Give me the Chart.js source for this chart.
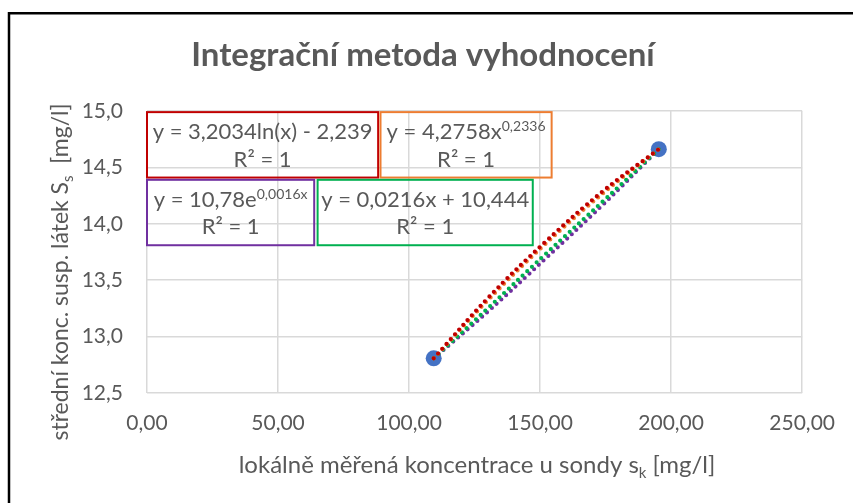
<!DOCTYPE html>
<html><head><meta charset="utf-8">
<script src="https://cdn.jsdelivr.net/npm/chart.js@4"></script>
<style>html,body{margin:0;padding:0;background:#fff;} canvas{display:block}</style>
</head><body>
<canvas id="c" width="853" height="503"></canvas>
<script>
// ---- data ----
const measuredX = [109.4, 195.3];
const measuredY = [12.807, 14.662];
const trendX   = [109.4, 130, 152, 174, 195.3];
const trendLog = [12.807, 13.34, 13.84, 14.29, 14.662];
const trendPow = [12.807, 13.32, 13.82, 14.27, 14.662];
const trendLin = [12.807, 13.25, 13.73, 14.20, 14.662];
const trendExp = [12.807, 13.22, 13.69, 14.17, 14.662];
const xTicks = [0, 50, 100, 150, 200, 250];
const yTicks = [12.5, 13, 13.5, 14, 14.5, 15];
const xTickLabels = ['0,00', '50,00', '100,00', '150,00', '200,00', '250,00'];
const yTickLabels = ['12,5', '13,0', '13,5', '14,0', '14,5', '15,0'];
const titleText = 'Integrační metoda vyhodnocení';
const eqBase = ['y = 3,2034ln(x) - 2,239', 'y = 4,2758x', 'y = 10,78e', 'y = 0,0216x + 10,444'];
const eqSup  = ['', '0,2336', '0,0016x', ''];
const eqR2   = ['R² = 1', 'R² = 1', 'R² = 1', 'R² = 1'];

// ---- styles / layout ----
const FAM = 'Lato';
const TXT = '#595959';
const COLORS = { log: '#C00000', pow: '#ED7D31', lin: '#00B050', exp: '#7030A0', pts: '#4472C4' };
const boxColors = [COLORS.log, COLORS.pow, COLORS.exp, COLORS.lin];
// label boxes in data coordinates [x0, x1, yTop, yBottom]
const boxExtents = [[0, 88.2, 14.99, 14.41], [89.1, 154.4, 14.99, 14.41], [0, 63.8, 14.39, 13.81], [65.1, 147.2, 14.39, 13.81]];

function pts(xs, ys) { return xs.map((x, i) => ({ x: x, y: ys[i] })); }
function trend(label, ys, color) {
  return { label: label, data: pts(trendX, ys), showLine: true, borderColor: color, backgroundColor: color,
    borderWidth: 4.2, borderDash: [0, 6.4], borderCapStyle: 'round', pointRadius: 0, tension: 0.4, fill: false };
}

function drawRich(ctx, parts, cx, baseY, weight) {
  let w = 0;
  parts.forEach(p => { ctx.font = (weight || '') + ' ' + p.s + 'px ' + FAM; w += ctx.measureText(p.t).width; });
  let x = cx - w / 2;
  parts.forEach(p => { ctx.font = (weight || '') + ' ' + p.s + 'px ' + FAM; ctx.fillText(p.t, x, baseY + (p.dy || 0)); x += ctx.measureText(p.t).width; });
}

const decor = {
  id: 'decor',
  beforeDraw(chart) {
    const ctx = chart.ctx;
    ctx.save();
    ctx.fillStyle = '#fff';
    ctx.fillRect(0, 0, chart.width, chart.height);
    ctx.strokeStyle = '#000';
    ctx.lineWidth = 2.5;
    ctx.beginPath();
    ctx.moveTo(9, 503); ctx.lineTo(9, 13.2); ctx.lineTo(853, 13.2);
    ctx.stroke();
    ctx.restore();
  },
  afterDraw(chart) {
    const ctx = chart.ctx, xs = chart.scales.x, ys = chart.scales.y;
    ctx.save();
    ctx.fillStyle = TXT;
    ctx.textBaseline = 'alphabetic';
    // title
    drawRich(ctx, [{ t: titleText, s: 33 }], 423, 66, 'bold');
    // x axis title
    drawRich(ctx, [{ t: 'lokálně měřená koncentrace u sondy s', s: 24 }, { t: 'k', s: 15, dy: 5 }, { t: ' [mg/l]', s: 24 }], 477, 473);
    // y axis title
    ctx.save();
    ctx.translate(68, 272);
    ctx.rotate(-Math.PI / 2);
    drawRich(ctx, [{ t: 'střední konc. susp. látek S', s: 23 }, { t: 's', s: 15, dy: 5 }, { t: '  [mg/l]', s: 23 }], 0, 0);
    ctx.restore();
    // equation boxes
    boxExtents.forEach((b, i) => {
      const x0 = xs.getPixelForValue(b[0]), x1 = xs.getPixelForValue(b[1]);
      const y0 = ys.getPixelForValue(b[2]), y1 = ys.getPixelForValue(b[3]);
      ctx.strokeStyle = boxColors[i];
      ctx.lineWidth = 2;
      ctx.strokeRect(x0, y0, x1 - x0, y1 - y0);
      const cx = (x0 + x1) / 2;
      const parts = [{ t: eqBase[i], s: 22 }];
      if (eqSup[i]) parts.push({ t: eqSup[i], s: 14, dy: -8 });
      ctx.fillStyle = TXT;
      drawRich(ctx, parts, cx, y0 + 27);
      drawRich(ctx, [{ t: eqR2[i], s: 22 }], cx, y0 + 54.5);
    });
    ctx.restore();
  }
};

new Chart(document.getElementById('c'), {
  type: 'scatter',
  data: {
    datasets: [
      trend('Logaritmický', trendLog, COLORS.log),
      trend('Mocninný', trendPow, COLORS.pow),
      trend('Lineární', trendLin, COLORS.lin),
      trend('Exponenciální', trendExp, COLORS.exp),
      { label: 'data', data: pts(measuredX, measuredY), showLine: false, pointRadius: 8,
        backgroundColor: COLORS.pts, borderColor: COLORS.pts, borderWidth: 0 }
    ]
  },
  options: {
    responsive: false, animation: false, devicePixelRatio: 1,
    layout: { padding: { top: 111, right: 48, bottom: 0, left: 0 } },
    plugins: { legend: { display: false }, tooltip: { enabled: false }, title: { display: false } },
    scales: {
      x: {
        type: 'linear', min: 0, max: 250,
        afterBuildTicks: s => { s.ticks = xTicks.map(v => ({ value: v })); },
        afterFit: s => { s.height = 110; },
        ticks: { callback: v => xTickLabels[xTicks.indexOf(v)], font: { family: FAM, size: 21 }, color: TXT, padding: 18, maxRotation: 0, autoSkip: false },
        grid: { color: '#D9D9D9', lineWidth: 1.5, drawTicks: false },
        border: { display: false }
      },
      y: {
        type: 'linear', min: 12.5, max: 15,
        afterBuildTicks: s => { s.ticks = yTicks.map(v => ({ value: v })); },
        afterFit: s => { s.width = 147; },
        ticks: { callback: v => yTickLabels[yTicks.indexOf(v)], font: { family: FAM, size: 21 }, color: TXT, padding: 24, autoSkip: false },
        grid: { color: '#D9D9D9', lineWidth: 1.5, drawTicks: false },
        border: { display: false }
      }
    }
  },
  plugins: [decor]
});
</script>
</body></html>
